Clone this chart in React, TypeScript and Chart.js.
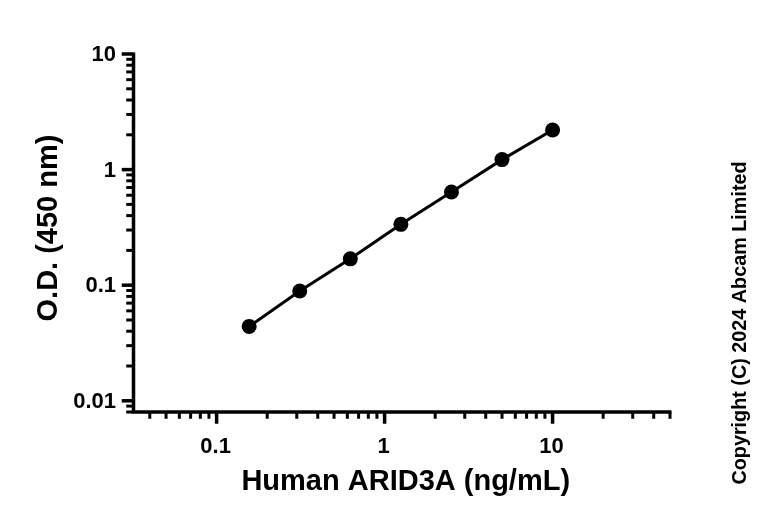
import React, { useEffect, useRef } from 'react';
import { Chart, registerables } from 'chart.js';

Chart.register(...registerables);

const concentrations = [0.15625, 0.3125, 0.625, 1.25, 2.5, 5, 10];
const opticalDensity = [0.044, 0.089, 0.169, 0.336, 0.64, 1.22, 2.2];

const xTickValues = [0.1, 1, 10];
const xTickLabels = ['0.1', '1', '10'];
const yTickValues = [0.01, 0.1, 1, 10];
const yTickLabels = ['0.01', '0.1', '1', '10'];

const xRange = [0.032, 50];
const yRange = [0.008, 10];

const xTitle = 'Human ARID3A (ng/mL)';
const yTitle = 'O.D. (450 nm)';
const copyrightText = 'Copyright (C) 2024 Abcam Limited';

const FONT = '"Liberation Sans", Arial, Helvetica, sans-serif';

function minorValues(min: number, max: number): { v: number; major: boolean }[] {
  const out: { v: number; major: boolean }[] = [];
  const d0 = Math.floor(Math.log10(min)) - 1;
  const d1 = Math.ceil(Math.log10(max)) + 1;
  for (let d = d0; d <= d1; d++) {
    for (let m = 1; m <= 9; m++) {
      const v = m * Math.pow(10, d);
      if (v >= min * 0.9999 && v <= max * 1.0001) out.push({ v, major: m === 1 });
    }
  }
  return out;
}

const axesPlugin = {
  id: 'prismAxes',
  beforeDatasetsDraw(chart: any) {
    const ctx = chart.ctx as CanvasRenderingContext2D;
    const xs = chart.scales.x;
    const ys = chart.scales.y;
    const left = xs.getPixelForValue(xRange[0]);
    const right = xs.getPixelForValue(xRange[1]);
    const top = ys.getPixelForValue(yRange[1]);
    const bottom = ys.getPixelForValue(yRange[0]);
    const aw = 3.5;
    ctx.save();
    ctx.strokeStyle = '#000';
    ctx.lineCap = 'butt';
    // axis lines
    ctx.lineWidth = aw;
    ctx.beginPath();
    ctx.moveTo(left, top - 1.5);
    ctx.lineTo(left, bottom + aw / 2);
    ctx.moveTo(left - aw / 2, bottom);
    ctx.lineTo(right + 1.5, bottom);
    ctx.stroke();
    // y ticks
    for (const t of minorValues(yRange[0], yRange[1])) {
      const py = ys.getPixelForValue(t.v);
      const len = t.major ? 10 : 5.5;
      ctx.lineWidth = t.major ? 3.5 : 3;
      ctx.beginPath();
      ctx.moveTo(left, py);
      ctx.lineTo(left - aw / 2 - len, py);
      ctx.stroke();
    }
    // x ticks
    for (const t of minorValues(xRange[0], xRange[1])) {
      const px = xs.getPixelForValue(t.v);
      const len = t.major ? 10 : 5;
      ctx.lineWidth = t.major ? 3.5 : 3;
      ctx.beginPath();
      ctx.moveTo(px, bottom);
      ctx.lineTo(px, bottom + aw / 2 + len);
      ctx.stroke();
    }
    // tick labels
    ctx.fillStyle = '#000';
    ctx.font = `bold 22px ${FONT}`;
    ctx.textAlign = 'right';
    ctx.textBaseline = 'middle';
    yTickValues.forEach((v, i) => {
      ctx.fillText(yTickLabels[i], left - 17.5, ys.getPixelForValue(v) + 1);
    });
    ctx.textAlign = 'center';
    ctx.textBaseline = 'alphabetic';
    xTickValues.forEach((v, i) => {
      ctx.fillText(xTickLabels[i], xs.getPixelForValue(v) - 1, bottom + 40.5);
    });
    // axis titles
    ctx.font = `bold 29px ${FONT}`;
    ctx.textAlign = 'center';
    ctx.fillText(xTitle, (left + right) / 2 + 4, 490);
    ctx.save();
    ctx.translate(57, (top + bottom) / 2 - 5);
    ctx.rotate(-Math.PI / 2);
    ctx.fillText(yTitle, 0, 0);
    ctx.restore();
    // copyright
    ctx.font = `bold 19.8px ${FONT}`;
    ctx.save();
    ctx.translate(746, 323);
    ctx.rotate(-Math.PI / 2);
    ctx.fillText(copyrightText, 0, 0);
    ctx.restore();
    ctx.restore();
  },
};

export default function App() {
  const ref = useRef<HTMLCanvasElement | null>(null);
  useEffect(() => {
    if (!ref.current) return;
    const chart = new Chart(ref.current, {
      type: 'line',
      data: {
        datasets: [
          {
            data: concentrations.map((c, i) => ({ x: c, y: opticalDensity[i] })),
            borderColor: '#000',
            backgroundColor: '#000',
            borderWidth: 3,
            pointRadius: 7.5,
            pointHoverRadius: 7.5,
            pointBackgroundColor: '#000',
            pointBorderWidth: 0,
            tension: 0,
            fill: false,
          },
        ],
      },
      options: {
        responsive: false,
        animation: false,
        devicePixelRatio: 1,
        layout: { padding: { top: 54, right: 98, left: 0, bottom: 0 } },
        plugins: { legend: { display: false }, tooltip: { enabled: false } },
        events: [],
        scales: {
          x: {
            type: 'logarithmic',
            min: xRange[0],
            max: xRange[1],
            grid: { display: false },
            border: { display: false },
            ticks: { display: false },
            afterFit: (s: any) => {
              s.height = 108;
            },
          },
          y: {
            type: 'logarithmic',
            min: yRange[0],
            max: yRange[1],
            grid: { display: false },
            border: { display: false },
            ticks: { display: false },
            afterFit: (s: any) => {
              s.width = 133.5;
            },
          },
        },
      } as any,
      plugins: [axesPlugin],
    });
    return () => chart.destroy();
  }, []);
  return (
    <div style={{ position: 'absolute', left: 0, top: 0, width: 768, height: 520, background: '#fff' }}>
      <canvas ref={ref} width={768} height={520} style={{ width: 768, height: 520, display: 'block' }} />
    </div>
  );
}
